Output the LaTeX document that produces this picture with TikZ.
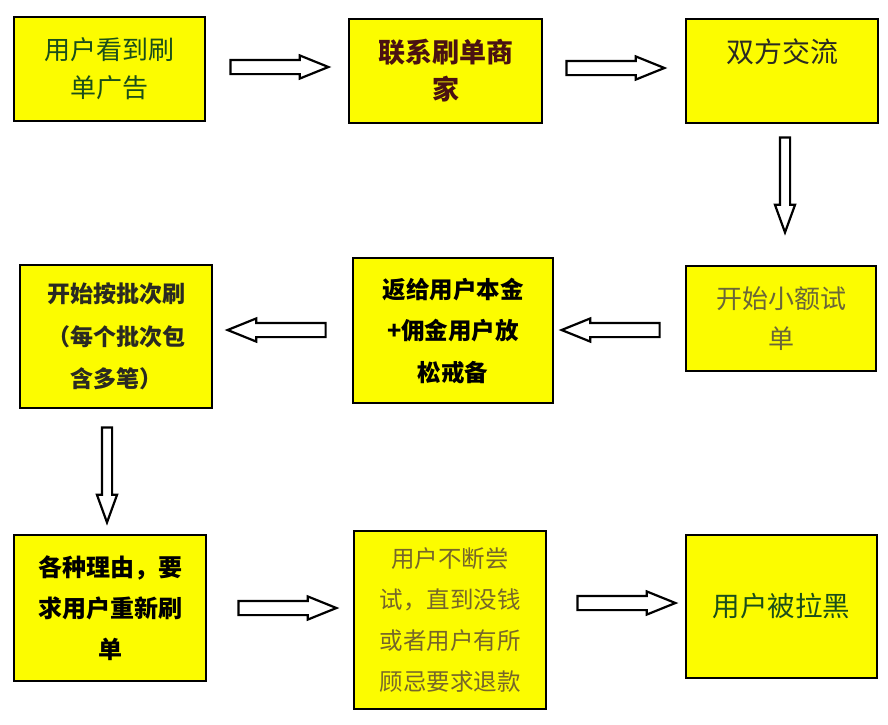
\documentclass[tikz,border=0pt]{standalone}
\usepackage{fontspec}
\setmainfont{Noto Sans CJK SC}
\usetikzlibrary{calc, positioning, shapes.arrows}
\definecolor{fyellow}{HTML}{FCFC00}
\definecolor{tgreen}{HTML}{1A4E1A}
\definecolor{tmaroon}{HTML}{4A1212}
\definecolor{tdark}{HTML}{2A2A22}
\definecolor{tolive}{HTML}{6A6638}
\definecolor{tbrown}{HTML}{76662A}
\tikzset{
  ybox/.style={draw=black, line width=2.6pt, fill=fyellow, align=center, inner sep=0pt},
  harrow/.style={single arrow, draw=black, fill=white, line width=2.2pt,
                 minimum height=98pt, inner xsep=0pt, inner ysep=6pt,
                 single arrow head extend=4.5pt, single arrow tip angle=44, anchor=tail},
  varrow/.style={single arrow, draw=black, fill=white, line width=2.2pt,
                 minimum height=95pt, inner xsep=0pt, inner ysep=4pt,
                 single arrow head extend=5pt, single arrow tip angle=40, rotate=-90, anchor=tail},
}
\newcommand{\fs}[2]{\fontsize{#1pt}{#2pt}\selectfont}

\begin{document}
\begin{tikzpicture}[x=1pt, y=-1pt]
  \useasboundingbox (0,0) rectangle (888,724);

  % row 1
  \node[ybox, minimum width=191pt, minimum height=104pt, text=tgreen, font=\fs{26}{38}] (see) at (109.5, 69) {用户看到刷\\单广告};
  \node[ybox, minimum width=193pt, minimum height=104pt, text=tmaroon, font=\fs{27}{37}\bfseries] (contact) at (445.5, 71) {联系刷单商\\家};
  \node[ybox, minimum width=192pt, minimum height=104pt, text=tdark, font=\fs{28}{41}] (talk) at (782, 71) {双方交流\\\mbox{}};

  % row 2
  \node[ybox, minimum width=190pt, minimum height=105pt, text=tolive, font=\fs{26}{40}] (trial) at (781, 318.5) {开始小额试\\单};
  \node[ybox, minimum width=200pt, minimum height=145pt, text=black, font=\fs{23.5}{41.5}\bfseries] (refund) at (453, 330.5) {返给用户本金\\+佣金用户放\\松戒备};
  \node[ybox, minimum width=192pt, minimum height=143pt, text=tdark, font=\fs{23}{42.5}\bfseries] (batch) at (116, 336.5) {开始按批次刷\\（每个批次包\\含多笔）};

  % row 3
  \node[ybox, minimum width=192pt, minimum height=146pt, text=black, font=\fs{24}{41}\bfseries] (reason) at (110, 608) {各种理由，要\\求用户重新刷\\单};
  \node[ybox, minimum width=192pt, minimum height=178pt, text=tbrown, font=\fs{23.5}{40.7}] (retry) at (450, 620) {用户不断尝\\试，直到没钱\\或者用户有所\\顾忌要求退款};
  \node[ybox, minimum width=191pt, minimum height=143pt, text=tgreen, font=\fs{27.5}{40}] (black) at (781.5, 606.5) {用户被拉黑};

  % block arrows between boxes
  \node[harrow] (a1) at ($(see.east)+(23,-2)$) {};
  \node[harrow] (a2) at ($(contact.east)+(22,-3)$) {};
  \node[varrow] (a3) at ($(talk.south)+(3,12)$) {};
  \node[harrow, rotate=180] (a4) at ($(trial.west)+(-24,11.5)$) {};
  \node[harrow, rotate=180] (a5) at ($(refund.west)+(-25,-0.5)$) {};
  \node[varrow] (a6) at ($(batch.south)+(-9,17)$) {};
  \node[harrow] (a7) at ($(reason.east)+(30,0)$) {};
  \node[harrow] (a8) at ($(retry.east)+(29,-17)$) {};

\end{tikzpicture}
\end{document}
